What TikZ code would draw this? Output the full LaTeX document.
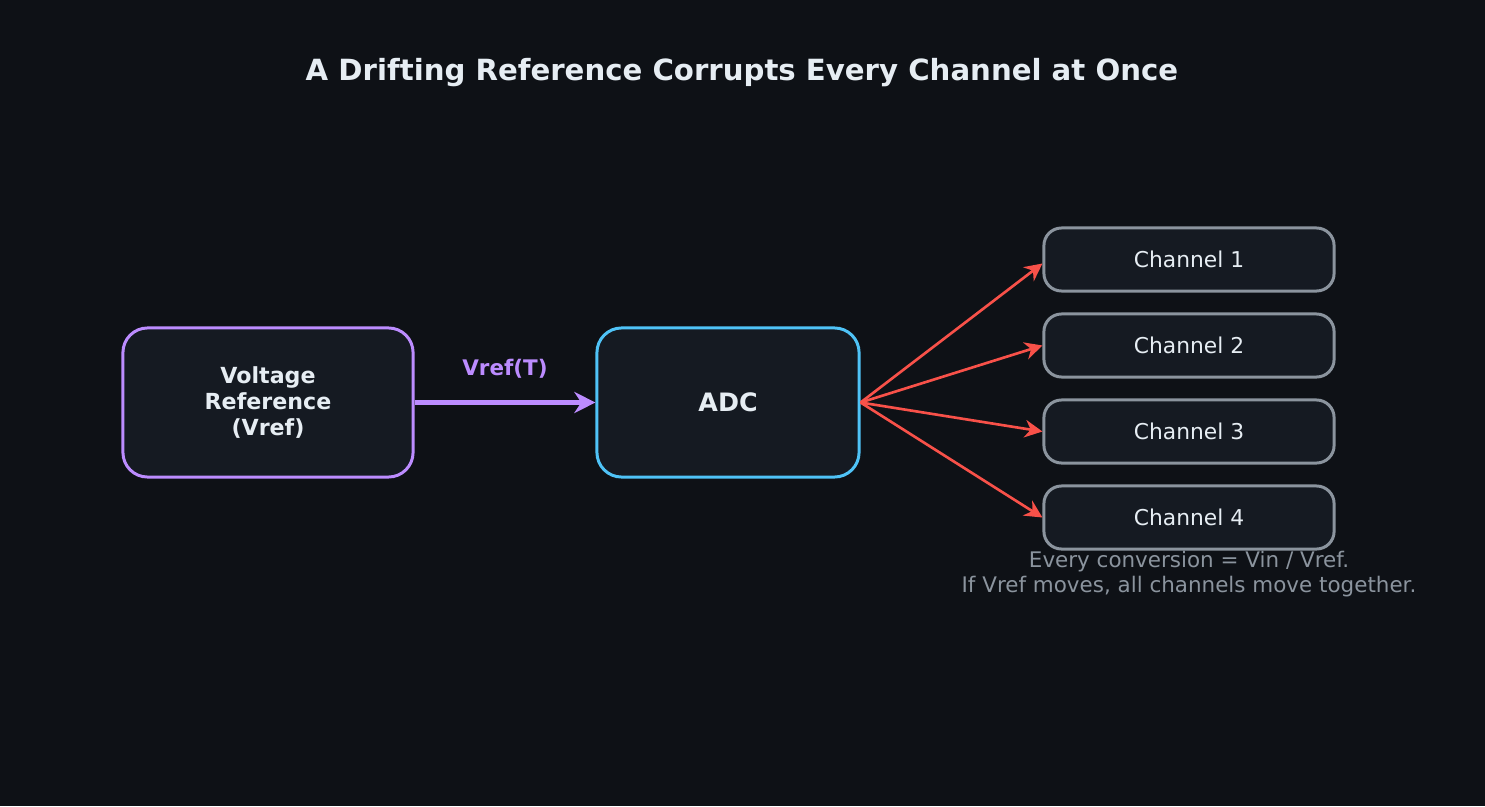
\documentclass[tikz,border=0pt]{standalone}
\usepackage{fontspec}
\setmainfont{DejaVu Sans}
\usetikzlibrary{arrows.meta}
\definecolor{bg}{HTML}{0E1116}
\definecolor{boxf}{HTML}{151A22}
\definecolor{purp}{HTML}{BC8CFF}
\definecolor{blu}{HTML}{4FC3F7}
\definecolor{gry}{HTML}{8B949E}
\definecolor{redc}{HTML}{F85149}
\definecolor{txt}{HTML}{E6EDF3}
\begin{document}
\begin{tikzpicture}[x=0.01cm,y=-0.01cm,
  box/.style={draw, line width=0.85pt, fill=boxf, rounded corners=7pt, text=txt, align=center, inner sep=0pt},
  ch/.style={box, draw=gry, minimum width=2.9cm, minimum height=0.63cm, rounded corners=5pt, font=\fontsize{6.2}{7.4}\selectfont},
  rarr/.style={draw=redc, line width=0.75pt, -{Stealth[length=5pt,width=5pt]}}]
\fill[bg] (0,0) rectangle (1485,806);
\useasboundingbox (0,0) rectangle (1485,806);
\node[text=txt, font=\bfseries\fontsize{8.3}{10}\selectfont] (title) at (742,73) {A Drifting Reference Corrupts Every Channel at Once};
\node[box, draw=purp, minimum width=2.9cm, minimum height=1.49cm, font=\bfseries\fontsize{6.3}{7.5}\selectfont] (vref) at (268,402.5) {Voltage\\Reference\\(Vref)};
\node[box, draw=blu, minimum width=2.62cm, minimum height=1.49cm, font=\bfseries\fontsize{7.2}{8.5}\selectfont] (adc) at (728,402.5) {ADC};
\node[ch] (c1) at (1189,259.5) {Channel 1};
\node[ch] (c2) at (1189,345.5) {Channel 2};
\node[ch] (c3) at (1189,431.5) {Channel 3};
\node[ch] (c4) at (1189,517.5) {Channel 4};
\draw[draw=purp, line width=1.2pt, -{Stealth[length=6pt,width=6pt]}] (vref) -- node[above=3pt, text=purp, font=\bfseries\fontsize{6.1}{7}\selectfont] (lab) {Vref(T)} (adc);
\draw[rarr] (adc.east) -- ([yshift=0.01cm*-4]c1.west);
\draw[rarr] (adc.east) -- (c2.west);
\draw[rarr] (adc.east) -- (c3.west);
\draw[rarr] (adc.east) -- (c4.west);
\node[text=gry, align=center, font=\fontsize{6.1}{7}\selectfont] (note) at (1189,574) {Every conversion = Vin / Vref.\\If Vref moves, all channels move together.};
\end{tikzpicture}
\end{document}
